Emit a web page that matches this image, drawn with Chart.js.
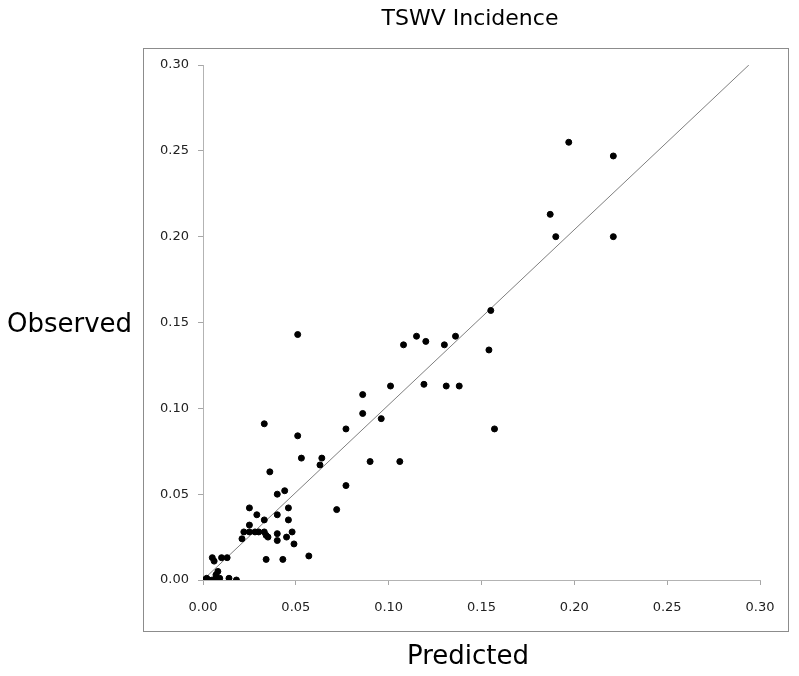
<!DOCTYPE html>
<html>
<head>
<meta charset="utf-8">
<script src="https://cdn.jsdelivr.net/npm/chart.js@4/dist/chart.umd.min.js"></script>
<style>
  body { margin: 0; background: #fff; font-family: "DejaVu Sans", sans-serif; }
  #wrap { position: relative; width: 799px; height: 676px; }
  #box { position: absolute; left: 143px; top: 48px; width: 644px; height: 582px; border: 1px solid #8c8c8c; }
  canvas { position: absolute; left: 0; top: 0; }
  .lbl { position: absolute; color: #000; white-space: nowrap; }
  #title { left: 0; width: 940px; top: 5px; font-size: 22px; text-align: center; }
  #ylab { left: 7px; top: 308px; font-size: 26px; }
  #xlab { left: 0; width: 936px; top: 640px; font-size: 26px; text-align: center; }
</style>
</head>
<body>
<div id="wrap">
  <div id="box"></div>
  <canvas id="chart" width="799" height="676"></canvas>
  <div class="lbl" id="title">TSWV Incidence</div>
  <div class="lbl" id="ylab">Observed</div>
  <div class="lbl" id="xlab">Predicted</div>
</div>
<script>
// predicted vs observed incidence
const predicted = [
  0.197, 0.221, 0.187, 0.190, 0.221, 0.155, 0.108, 0.115, 0.120, 0.130,
  0.136, 0.154, 0.101, 0.119, 0.131, 0.138, 0.096, 0.157, 0.106, 0.051,
  0.033, 0.051, 0.053, 0.064, 0.063, 0.077, 0.086, 0.086, 0.090, 0.036,
  0.077, 0.072, 0.057, 0.044, 0.040, 0.025, 0.046, 0.029, 0.040, 0.033,
  0.046, 0.025, 0.022, 0.025, 0.028, 0.030, 0.033, 0.034, 0.035, 0.040,
  0.048, 0.021, 0.040, 0.045, 0.049, 0.034, 0.043, 0.005, 0.006, 0.010,
  0.013, 0.008, 0.007, 0.000, 0.001, 0.003, 0.005, 0.002, 0.007, 0.008,
  0.009, 0.014, 0.018
];
const observed = [
  0.255, 0.247, 0.213, 0.200, 0.200, 0.157, 0.137, 0.142, 0.139, 0.137,
  0.142, 0.134, 0.113, 0.114, 0.113, 0.113, 0.094, 0.088, 0.069, 0.143,
  0.091, 0.084, 0.071, 0.071, 0.067, 0.088, 0.108, 0.097, 0.069, 0.063,
  0.055, 0.041, 0.014, 0.052, 0.050, 0.042, 0.042, 0.038, 0.038, 0.035,
  0.035, 0.032, 0.028, 0.028, 0.028, 0.028, 0.028, 0.026, 0.025, 0.027,
  0.028, 0.024, 0.023, 0.025, 0.021, 0.012, 0.012, 0.013, 0.011, 0.013,
  0.013, 0.005, 0.003, 0.000, 0.000, 0.000, 0.000, 0.001, 0.001, 0.000,
  0.001, 0.001, 0.000
];
// reference line
const lineX = [0, 0.294];
const lineY = [0, 0.300];
const axisTicks = [0, 0.05, 0.10, 0.15, 0.20, 0.25, 0.30];

const tickFont = { family: "DejaVu Sans", size: 13 };

function axis(pos, fitSize) {
  return {
    type: "linear",
    position: pos,
    min: 0,
    max: 0.30,
    afterBuildTicks: s => { s.ticks = axisTicks.map(v => ({ value: v })); },
    afterFit: s => { if (pos === "left") s.width = fitSize; else s.height = fitSize; },
    ticks: {
      color: "#222",
      font: tickFont,
      padding: pos === "left" ? 9 : 15,
      maxRotation: 0,
      callback: v => v.toFixed(2),
    },
    grid: { drawOnChartArea: false, drawTicks: true, tickLength: 5, color: "#a6a6a6" },
    border: { display: true, color: "#b3b3b3", width: 1 },
  };
}

new Chart(document.getElementById("chart"), {
  type: "scatter",
  data: {
    datasets: [
      {
        type: "line",
        data: lineX.map((x, i) => ({ x, y: lineY[i] })),
        borderColor: "#7f7f7f",
        borderWidth: 1,
        pointRadius: 0,
        fill: false,
        order: 2,
      },
      {
        data: predicted.map((x, i) => ({ x, y: observed[i] })),
        backgroundColor: "#000",
        borderColor: "#000",
        pointRadius: 3,
        pointHoverRadius: 3,
        order: 1,
      },
    ],
  },
  options: {
    responsive: false,
    animation: false,
    layout: { padding: { left: 150, top: 65, right: 39, bottom: 56 } },
    plugins: { legend: { display: false }, tooltip: { enabled: false } },
    scales: {
      x: axis("bottom", 40),
      y: axis("left", 53),
    },
  },
});
</script>
</body>
</html>
